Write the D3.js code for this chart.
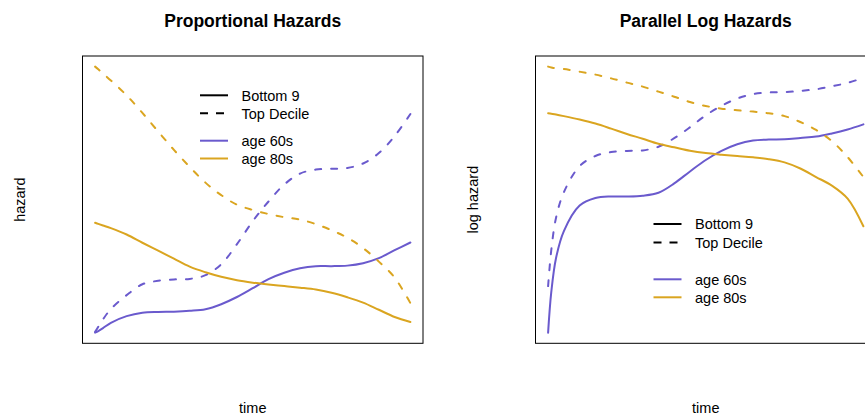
<!DOCTYPE html>
<html>
<head>
<meta charset="utf-8">
<script src="https://cdn.jsdelivr.net/npm/d3@7"></script>
<style>
  body { margin: 0; background: #fff; }
  text { font-family: "Liberation Sans", Arial, Helvetica, sans-serif; fill: #000; }
</style>
</head>
<body>
<svg id="chart" width="865" height="418"></svg>
<script>
// time grid shared by every curve
const time = [0, 0.1, 0.25, 0.5, 1, 1.5, 2, 2.5, 3, 3.5, 4, 4.5, 5, 5.5, 6, 6.5, 7, 7.5, 8, 8.5, 9, 9.5, 10];

// left panel: hazard (arbitrary units)
const haz60Bottom = [0.000, 0.006, 0.017, 0.037, 0.062, 0.075, 0.078, 0.079, 0.082, 0.088, 0.107, 0.134, 0.167, 0.201, 0.225, 0.242, 0.250, 0.250, 0.252, 0.261, 0.280, 0.310, 0.339];
const haz60Top    = [0.003, 0.022, 0.050, 0.089, 0.141, 0.182, 0.195, 0.200, 0.202, 0.216, 0.257, 0.333, 0.419, 0.493, 0.557, 0.598, 0.613, 0.616, 0.619, 0.636, 0.675, 0.739, 0.822];
const haz80Bottom = [0.413, 0.409, 0.403, 0.393, 0.369, 0.338, 0.308, 0.278, 0.248, 0.227, 0.210, 0.197, 0.188, 0.181, 0.175, 0.169, 0.162, 0.150, 0.133, 0.113, 0.086, 0.059, 0.040];
const haz80Top    = [1.000, 0.990, 0.974, 0.948, 0.892, 0.826, 0.756, 0.687, 0.623, 0.564, 0.517, 0.481, 0.461, 0.446, 0.434, 0.425, 0.408, 0.385, 0.357, 0.318, 0.267, 0.207, 0.111];

// right panel: log hazard (arbitrary units)
const logHaz60Bottom = [0.000, 0.152, 0.280, 0.382, 0.478, 0.506, 0.512, 0.512, 0.515, 0.526, 0.561, 0.606, 0.649, 0.683, 0.708, 0.722, 0.726, 0.727, 0.732, 0.737, 0.749, 0.764, 0.783];
const logHaz60Top    = [0.175, 0.310, 0.431, 0.528, 0.626, 0.664, 0.679, 0.683, 0.685, 0.699, 0.731, 0.772, 0.817, 0.853, 0.880, 0.897, 0.903, 0.904, 0.909, 0.915, 0.926, 0.939, 0.958];
const logHaz80Bottom = [0.825, 0.823, 0.820, 0.814, 0.801, 0.786, 0.767, 0.747, 0.729, 0.710, 0.697, 0.684, 0.675, 0.669, 0.664, 0.659, 0.652, 0.640, 0.617, 0.585, 0.553, 0.504, 0.400];
const logHaz80Top    = [1.000, 0.997, 0.993, 0.991, 0.981, 0.970, 0.956, 0.940, 0.925, 0.906, 0.887, 0.867, 0.852, 0.842, 0.836, 0.831, 0.825, 0.814, 0.792, 0.762, 0.720, 0.660, 0.585];

const legendLabels = ["Bottom 9", "Top Decile", "age 60s", "age 80s"];
const titles = ["Proportional Hazards", "Parallel Log Hazards"];
const yLabels = ["hazard", "log hazard"];
const xLabel = "time";

const purple = "#6A5ACD";
const gold = "#DAA520";

const panels = [
  {
    title: titles[0], ylab: yLabels[0], x0: 82.5,
    series: [
      { values: haz60Bottom, color: purple, dashed: false },
      { values: haz60Top, color: purple, dashed: true },
      { values: haz80Bottom, color: gold, dashed: false },
      { values: haz80Top, color: gold, dashed: true }
    ],
    legend: { x: 200, rows: [95.3, 113.3, 140.7, 158.5] }
  },
  {
    title: titles[1], ylab: yLabels[1], x0: 535.5,
    series: [
      { values: logHaz60Bottom, color: purple, dashed: false },
      { values: logHaz60Top, color: purple, dashed: true },
      { values: logHaz80Bottom, color: gold, dashed: false },
      { values: logHaz80Top, color: gold, dashed: true }
    ],
    legend: { x: 653.5, rows: [224, 242.5, 279.3, 297.3] }
  }
];

const svg = d3.select("#chart");
const plotW = 340.5, plotTop = 56, plotBottom = 343.3;

// R style: data range padded by 4% on each side
function padded(ext) {
  const p = (ext[1] - ext[0]) * 0.04;
  return [ext[0] - p, ext[1] + p];
}

panels.forEach(function (panel) {
  const x = d3.scaleLinear().domain(padded(d3.extent(time))).range([panel.x0, panel.x0 + plotW]);
  const allY = d3.merge(panel.series.map(s => s.values));
  const y = d3.scaleLinear().domain(padded(d3.extent(allY))).range([plotBottom, plotTop]);

  const g = svg.append("g");

  const line = d3.line()
    .x((d, i) => x(time[i]))
    .y(d => y(d))
    .curve(d3.curveCatmullRom.alpha(0.5));

  panel.series.forEach(function (s) {
    g.append("path")
      .attr("d", line(s.values))
      .attr("fill", "none")
      .attr("stroke", s.color)
      .attr("stroke-width", 2)
      .attr("stroke-linecap", "round")
      .attr("stroke-dasharray", s.dashed ? "6,10" : null);
  });

  // box
  g.append("rect")
    .attr("x", panel.x0).attr("y", plotTop)
    .attr("width", plotW).attr("height", plotBottom - plotTop)
    .attr("fill", "none").attr("stroke", "#000").attr("stroke-width", 1);

  const cx = panel.x0 + plotW / 2;
  g.append("text")
    .attr("x", cx).attr("y", 26.5)
    .attr("text-anchor", "middle")
    .style("font-size", "17.5px").style("font-weight", "bold")
    .text(panel.title);

  g.append("text")
    .attr("x", cx).attr("y", 412.5)
    .attr("text-anchor", "middle")
    .style("font-size", "14.5px")
    .text(xLabel);

  g.append("text")
    .attr("transform", "translate(" + (panel.x0 - 57.5) + "," + ((plotTop + plotBottom) / 2) + ") rotate(-90)")
    .attr("text-anchor", "middle")
    .style("font-size", "14.5px")
    .text(panel.ylab);

  // legend
  const keyStyles = [
    { color: "#000", dashed: false },
    { color: "#000", dashed: true },
    { color: purple, dashed: false },
    { color: gold, dashed: false }
  ];
  legendLabels.forEach(function (lab, i) {
    const ly = panel.legend.rows[i];
    g.append("line")
      .attr("x1", panel.legend.x).attr("x2", panel.legend.x + 28)
      .attr("y1", ly).attr("y2", ly)
      .attr("stroke", keyStyles[i].color)
      .attr("stroke-width", 2)
      .attr("stroke-dasharray", keyStyles[i].dashed ? "8,8" : null);
    g.append("text")
      .attr("x", panel.legend.x + 41.5).attr("y", ly + 5.3)
      .style("font-size", "14.5px")
      .text(lab);
  });
});
</script>
</body>
</html>
